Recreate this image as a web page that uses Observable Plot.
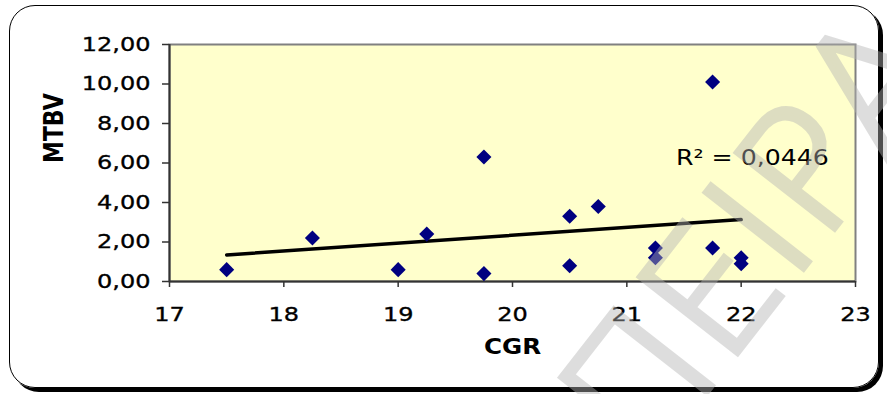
<!DOCTYPE html>
<html>
<head>
<meta charset="utf-8">
<script src="https://cdn.jsdelivr.net/npm/d3@7"></script>
<script src="https://cdn.jsdelivr.net/npm/@observablehq/plot@0.6"></script>
<style>
  html, body { margin: 0; padding: 0; background: #fff; }
  #wrap { position: relative; width: 887px; height: 394px; overflow: hidden; }
  #wrap > svg { position: absolute; left: 0; top: 0; }
  #border { position: absolute; left: 9px; top: 5px; width: 868px; height: 381px;
            border: 1.5px solid #000; border-radius: 26px;
            box-shadow: 4px 4px 0 #000; pointer-events: none; }
  #wm { position: absolute; left: 0; top: 0; pointer-events: none; }
  .tk text { stroke: #000; stroke-width: 0.35px; }
</style>
</head>
<body>
<div id="wrap"><div id="border"></div></div>
<script>
// ---- data ----
const cgr  = [17.5, 18.25, 19, 19.25, 19.75, 19.75, 20.5, 20.5, 20.75, 21.25, 21.25, 21.75, 21.75, 22, 22];
const mtbv = [0.6, 2.2, 0.6, 2.4, 6.3, 0.4, 3.3, 0.8, 3.8, 1.7, 1.2, 10.1, 1.7, 1.2, 0.9];
const xTicks = [17, 18, 19, 20, 21, 22, 23];
const yTicks = [0, 2, 4, 6, 8, 10, 12];
const xLabel = "CGR";
const yLabel = "MTBV";
const r2Label = "R² = 0,0446";
const watermark = "ΠΕΙΡΑ";

const data = cgr.map((x, i) => ({x, y: mtbv[i]}));
const fmt = d => d.toFixed(2).replace(".", ",");

const chart = Plot.plot({
  width: 887, height: 394,
  marginLeft: 169, marginRight: 32, marginTop: 44, marginBottom: 113,
  style: {fontFamily: "'DejaVu Sans', Verdana, sans-serif", fontSize: "20px", color: "#000", background: "transparent"},
  x: {domain: [17, 23]},
  y: {domain: [0, 12]},
  marks: [
    Plot.frame({fill: "#ffffcc", stroke: "#808080", strokeWidth: 2}),
    Plot.ruleX([17], {stroke: "#333", strokeWidth: 2}),
    Plot.ruleY([0], {stroke: "#333", strokeWidth: 2}),
    Plot.axisX({ticks: xTicks, tickFormat: d => String(d), tickSize: 6, tickPadding: 19, label: null, stroke: "#333", strokeWidth: 1.5, className: "tk"}),
    Plot.axisY({ticks: yTicks, tickFormat: fmt, tickSize: 7, tickPadding: 12, label: null, stroke: "#333", strokeWidth: 1.5, className: "tk"}),
    Plot.text([xLabel], {frameAnchor: "bottom", dy: 72, fontWeight: "bold", fontSize: 20.5}),
    Plot.text([yLabel], {frameAnchor: "left", dx: -115, rotate: -90, fontWeight: "bold", fontSize: 22}),
    Plot.linearRegressionY(data, {x: "x", y: "y", stroke: "#000", strokeWidth: 3.5, ci: 0}),
    Plot.dot(data, {x: "x", y: "y", symbol: "diamond2", r: 6.8, fill: "#000080", stroke: "none"}),
    Plot.text([r2Label], {x: 21.43, y: 6.23, textAnchor: "start", fontSize: 21})
  ]
});
const wrap = document.getElementById("wrap");
wrap.insertBefore(chart, wrap.firstChild);

// stretch all chart texts horizontally (the reference is a horizontally stretched image)
const SX = 1.2;
chart.querySelectorAll("text").forEach(el => {
  const c = el.transform.baseVal.consolidate();
  const m = c ? c.matrix : {a:1,b:0,c:0,d:1,e:0,f:0};
  const x = +el.getAttribute("x") || 0, y = +el.getAttribute("y") || 0;
  const px = m.a * x + m.c * y + m.e, py = m.b * x + m.d * y + m.f;
  const old = el.getAttribute("transform") || "";
  el.setAttribute("transform", `translate(${px},${py}) scale(${SX},1) translate(${-px},${-py}) ${old}`);
});

// watermark overlay
const ns = "http://www.w3.org/2000/svg";
const wm = document.createElementNS(ns, "svg");
wm.setAttribute("id", "wm");
wm.setAttribute("width", 887); wm.setAttribute("height", 394);
const g = document.createElementNS(ns, "g");
g.setAttribute("opacity", "0.44");
const t = document.createElementNS(ns, "text");
t.setAttribute("transform", "translate(646,470) rotate(-52)");
t.setAttribute("font-family", "'DejaVu Sans', sans-serif");
t.setAttribute("font-weight", "200");
t.setAttribute("font-size", "170");
t.setAttribute("fill", "#b4b4b4");
t.setAttribute("stroke", "#b4b4b4");
t.setAttribute("stroke-width", "6");
t.setAttribute("stroke-linejoin", "miter");
t.textContent = watermark;
g.appendChild(t);
wm.appendChild(g);
wrap.appendChild(wm);
</script>
</body>
</html>
